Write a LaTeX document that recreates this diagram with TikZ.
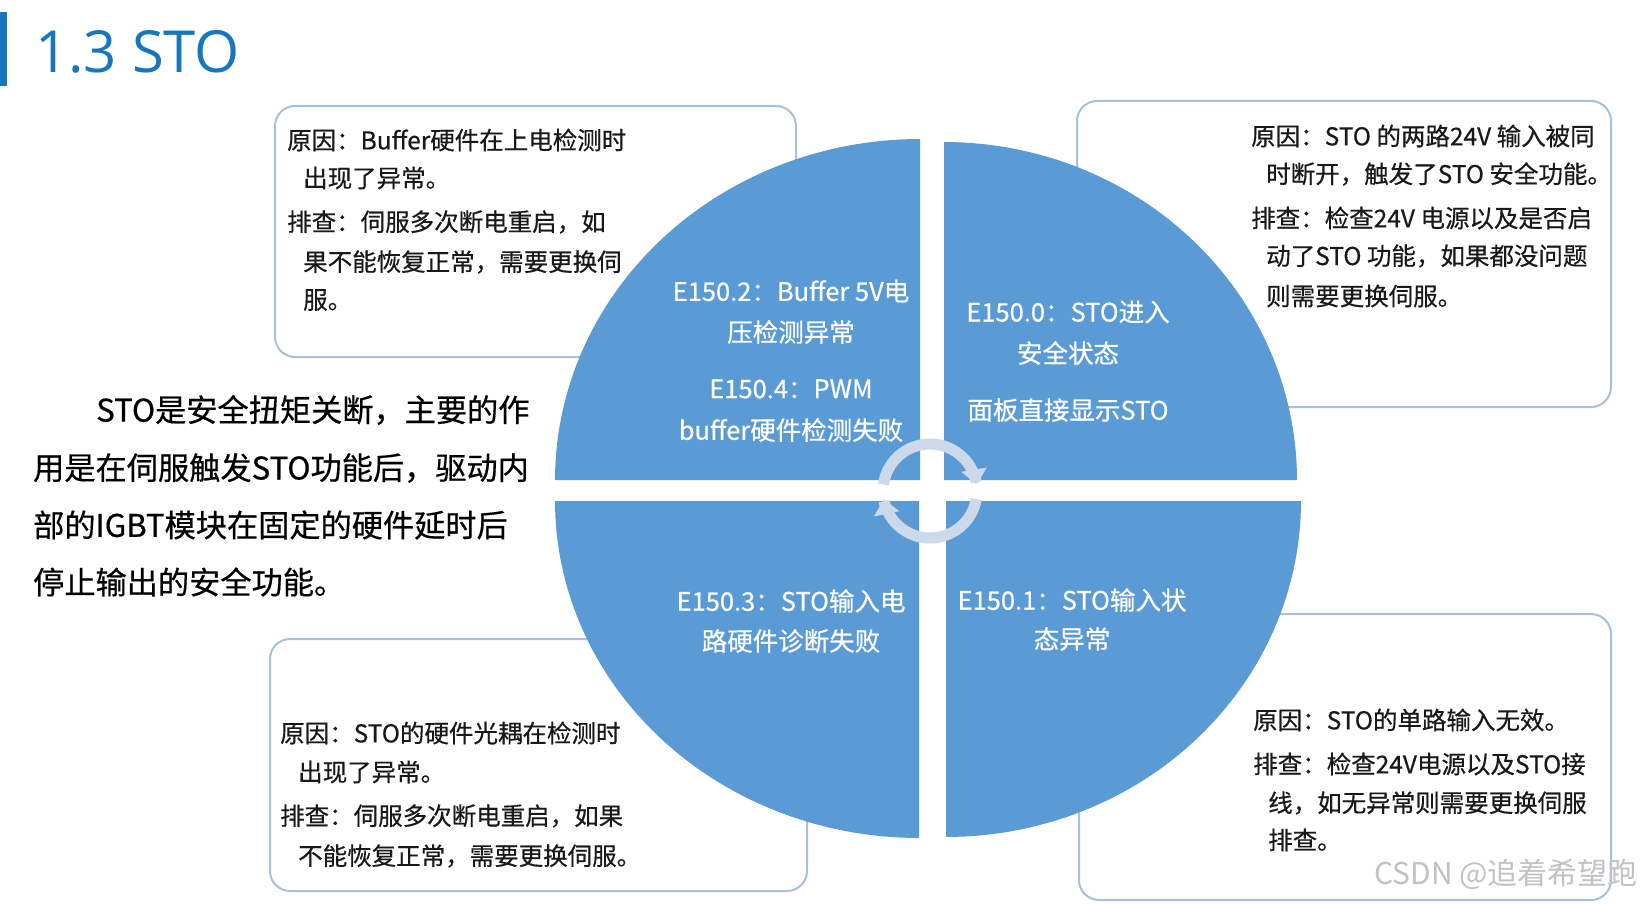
\documentclass[tikz,border=0pt]{standalone}
\usepackage{fontspec}
\setmainfont{Noto Sans CJK SC}
\newfontfamily\bodyfont{Noto Sans CJK SC}[FakeBold=0.5]
\newfontfamily\titlefont{Open Sans}
\usetikzlibrary{arrows.meta}
\definecolor{quadblue}{RGB}{91,155,213}
\definecolor{boxline}{RGB}{168,192,218}
\definecolor{titleblue}{RGB}{22,119,190}
\definecolor{ringcol}{RGB}{203,217,234}
\definecolor{txtdark}{RGB}{25,25,25}
\begin{document}
\begin{tikzpicture}[x=1pt,y=-1pt,
  infobox/.style={draw=boxline, line width=2pt, rounded corners=20pt, fill=white, anchor=north west, inner sep=0pt},
  btext/.style={anchor=west, inner sep=0pt, font=\bodyfont\fontsize{24.5}{24.5}\selectfont, text=txtdark},
  ptext/.style={anchor=west, inner sep=0pt, font=\bodyfont\fontsize{31.2}{31.2}\selectfont, text=black},
  qtext/.style={anchor=center, inner sep=0pt, font=\bodyfont\fontsize{25.5}{25.5}\selectfont, text=white},
  ringarrow/.style={draw=ringcol, line width=11pt, -{Triangle[width=25pt,length=15pt]}}
]
\useasboundingbox (0,0) rectangle (1641,904);
\fill[white] (0,0) rectangle (1641,904);

% title
\fill[titleblue] (0,12) rectangle (7,86);
\node[anchor=base west, inner sep=0pt, text=titleblue, font=\titlefont\fontsize{58}{58}\selectfont] (title) at (35,73) {1.3 STO};

% boxes
\node[infobox, minimum width=521, minimum height=251] (boxTL) at (274,105) {};
\node[infobox, minimum width=534, minimum height=306] (boxTR) at (1076,100) {};
\node[infobox, minimum width=537, minimum height=252] (boxBL) at (269,638) {};
\node[infobox, minimum width=532, minimum height=286] (boxBR) at (1078,613) {};

% circle quadrants
\fill[quadblue] (920,480) -- plot[domain=180:270, samples=60] ({920+365*cos(\x)},{480+341*sin(\x)}) -- cycle;
\fill[quadblue] (944,480) -- plot[domain=270:360, samples=60] ({944+353*cos(\x)},{480+338*sin(\x)}) -- cycle;
\fill[quadblue] (919,501) -- plot[domain=90:180, samples=60] ({919+364*cos(\x)},{501+337*sin(\x)}) -- cycle;
\fill[quadblue] (946,501) -- plot[domain=0:90, samples=60] ({946+355*cos(\x)},{501+336*sin(\x)}) -- cycle;

% cycle arrows
\draw[ringarrow] plot[domain=188:352, samples=60] ({930+47*cos(\x)},{491+47*sin(\x)});
\draw[ringarrow] plot[domain=10:170, samples=60] ({930+47*cos(\x)},{491+47*sin(\x)});

% quadrant texts
\node[qtext] (q1a) at (791,291) {E150.2：Buffer 5V电};
\node[qtext] (q1b) at (791,332) {压检测异常};
\node[qtext] (q1c) at (791,389) {E150.4：PWM};
\node[qtext] (q1d) at (791,430) {buffer硬件检测失败};
\node[qtext] (q2a) at (1068,312) {E150.0：STO进入};
\node[qtext] (q2b) at (1068,353) {安全状态};
\node[qtext] (q2c) at (1068,410) {面板直接显示STO};
\node[qtext] (q3a) at (791,601) {E150.3：STO输入电};
\node[qtext] (q3b) at (791,641) {路硬件诊断失败};
\node[qtext] (q4a) at (1072,600) {E150.1：STO输入状};
\node[qtext] (q4b) at (1072,639) {态异常};

% top-left box text
\node[btext] (tl1) at (287,140) {原因：Buffer硬件在上电检测时};
\node[btext] (tl2) at (303,178) {出现了异常。};
\node[btext] (tl3) at (287,222) {排查：伺服多次断电重启，如};
\node[btext] (tl4) at (303,262) {果不能恢复正常，需要更换伺};
\node[btext] (tl5) at (303,300) {服。};

% top-right box text
\node[btext] (tr1) at (1251,136) {原因：STO 的两路24V 输入被同};
\node[btext] (tr2) at (1266,174) {时断开，触发了STO 安全功能。};
\node[btext] (tr3) at (1251,218) {排查：检查24V 电源以及是否启};
\node[btext] (tr4) at (1266,256) {动了STO 功能，如果都没问题};
\node[btext] (tr5) at (1266,296) {则需要更换伺服。};

% bottom-left box text
\node[btext] (bl1) at (280,733) {原因：STO的硬件光耦在检测时};
\node[btext] (bl2) at (298,772) {出现了异常。};
\node[btext] (bl3) at (280,816) {排查：伺服多次断电重启，如果};
\node[btext] (bl4) at (298,856) {不能恢复正常，需要更换伺服。};

% bottom-right box text
\node[btext] (br1) at (1253,720) {原因：STO的单路输入无效。};
\node[btext] (br2) at (1253,764) {排查：检查24V电源以及STO接};
\node[btext] (br3) at (1268,803) {线，如无异常则需要更换伺服};
\node[btext] (br4) at (1268,840) {排查。};

% left paragraph
\node[ptext] (p1) at (96,410) {STO是安全扭矩关断，主要的作};
\node[ptext] (p2) at (33,468) {用是在伺服触发STO功能后，驱动内};
\node[ptext] (p3) at (33,525) {部的IGBT模块在固定的硬件延时后};
\node[ptext] (p4) at (33,582) {停止输出的安全功能。};

% watermark
\node[anchor=east, inner sep=0pt, text=black!24, font=\fontsize{30}{30}\selectfont] (wm) at (1638,874) {CSDN @追着希望跑};
\end{tikzpicture}
\end{document}
